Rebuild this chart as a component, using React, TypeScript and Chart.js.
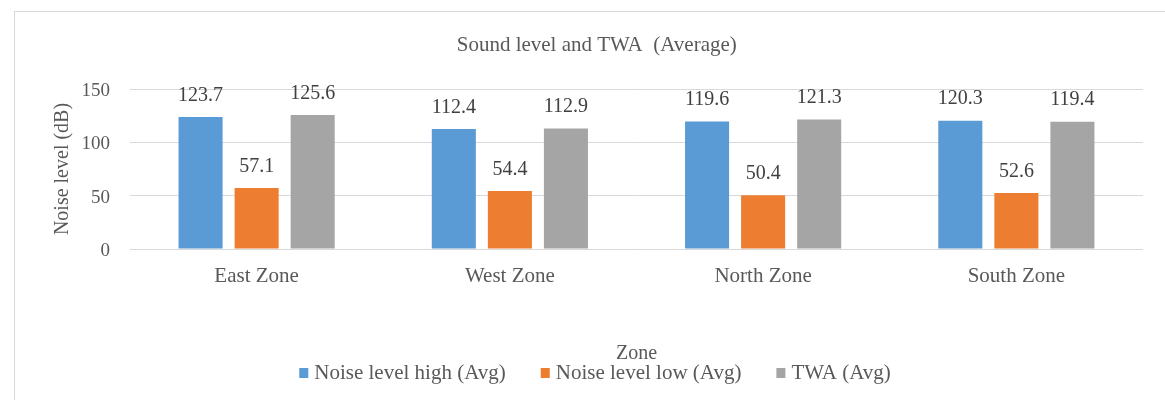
import React, { useEffect, useRef } from "react";
import { Chart, registerables } from "chart.js";

Chart.register(...registerables);

const FONT = '"Liberation Serif", "Times New Roman", serif';

const categories = ["East Zone", "West Zone", "North Zone", "South Zone"];
const noiseHigh = [123.7, 112.4, 119.6, 120.3];
const noiseLow = [57.1, 54.4, 50.4, 52.6];
const twa = [125.6, 112.9, 121.3, 119.4];
const seriesNames = ["Noise level high (Avg)", "Noise level low (Avg)", "TWA (Avg)"];
const seriesColors = ["#5B9BD5", "#ED7D31", "#A5A5A5"];
const yMin = 0;
const yMax = 150;
const yStep = 50;

const CANVAS_W = 1160;
const CANVAS_H = 388;

const dataLabels = {
  id: "dataLabels",
  afterDatasetsDraw(chart: any) {
    const ctx = chart.ctx;
    ctx.save();
    ctx.font = `20px ${FONT}`;
    ctx.fillStyle = "#404040";
    ctx.textAlign = "center";
    ctx.textBaseline = "middle";
    chart.data.datasets.forEach((ds: any, i: number) => {
      const meta = chart.getDatasetMeta(i);
      meta.data.forEach((el: any, j: number) => {
        ctx.fillText(Number(ds.data[j]).toFixed(1), el.x, el.y - 21.5);
      });
    });
    ctx.restore();
  },
};

const bottomLegend = {
  id: "bottomLegend",
  afterDraw(chart: any) {
    const ctx = chart.ctx;
    ctx.save();
    ctx.font = `21px ${FONT}`;
    const boxW = 9;
    const boxH = 10;
    const gap = 6;
    const spacing = 35;
    const items = chart.data.datasets.map((ds: any) => ({
      text: ds.label,
      color: ds.backgroundColor,
      w: ctx.measureText(ds.label).width,
    }));
    const total =
      items.reduce((a: number, it: any) => a + boxW + gap + it.w, 0) +
      spacing * (items.length - 1);
    let x = chart.width / 2 - total / 2;
    const y = chart.height - 27;
    ctx.textAlign = "left";
    ctx.textBaseline = "middle";
    items.forEach((it: any) => {
      ctx.fillStyle = it.color;
      ctx.fillRect(x, y - boxH / 2, boxW, boxH);
      x += boxW + gap;
      ctx.fillStyle = "#595959";
      ctx.fillText(it.text, x, y);
      x += it.w + spacing;
    });
    ctx.restore();
  },
};

export default function App() {
  const ref = useRef<HTMLCanvasElement | null>(null);

  useEffect(() => {
    if (!ref.current) return;
    const seriesData = [noiseHigh, noiseLow, twa];
    const chart = new Chart(ref.current, {
      type: "bar",
      data: {
        labels: categories,
        datasets: seriesNames.map((name, i) => ({
          label: name,
          data: seriesData[i],
          backgroundColor: seriesColors[i],
          borderWidth: 0,
          barPercentage: 0.786,
          categoryPercentage: 0.664,
        })),
      },
      plugins: [dataLabels, bottomLegend],
      options: {
        responsive: false,
        animation: false,
        devicePixelRatio: 1,
        layout: { padding: { left: 35.5, right: 32, top: 0, bottom: 34 } },
        plugins: {
          legend: { display: false },
          tooltip: { enabled: false },
          title: {
            display: true,
            text: "Sound level and TWA  (Average)",
            color: "#595959",
            font: { family: FONT, size: 21, weight: "normal" },
            padding: { top: 20.5, bottom: 31.3 },
          },
        },
        scales: {
          x: {
            grid: { display: false, drawTicks: false },
            border: { display: false },
            ticks: {
              color: "#595959",
              font: { family: FONT, size: 21 },
              padding: 14.8,
            },
            title: {
              display: true,
              text: "Zone",
              color: "#595959",
              font: { family: FONT, size: 20 },
              padding: { top: 0, bottom: 0 },
            },
            afterFit: (scale: any) => {
              scale.height = 117;
            },
          },
          y: {
            min: yMin,
            max: yMax,
            ticks: {
              stepSize: yStep,
              color: "#595959",
              font: { family: FONT, size: 19 },
              padding: 20,
              labelOffset: 2,
            },
            grid: { color: "#d9d9d9", lineWidth: 1, drawTicks: false },
            border: { display: false },
            title: {
              display: true,
              text: "Noise level (dB)",
              color: "#595959",
              font: { family: FONT, size: 20 },
              padding: { top: 0, bottom: 0 },
            },
            afterFit: (scale: any) => {
              scale.width = 79.5;
            },
          },
        },
      },
    });
    return () => chart.destroy();
  }, []);

  return (
    <div
      style={{
        position: "fixed",
        left: 0,
        top: 0,
        width: 1165,
        height: 400,
        overflow: "hidden",
        background: "#ffffff",
      }}
    >
      <div
        style={{
          position: "absolute",
          left: 14,
          top: 11,
          width: 1180,
          height: 420,
          border: "1px solid #d9d9d9",
          background: "#ffffff",
        }}
      >
        <canvas
          ref={ref}
          width={CANVAS_W}
          height={CANVAS_H}
          style={{ display: "block", width: CANVAS_W, height: CANVAS_H }}
        />
      </div>
    </div>
  );
}
